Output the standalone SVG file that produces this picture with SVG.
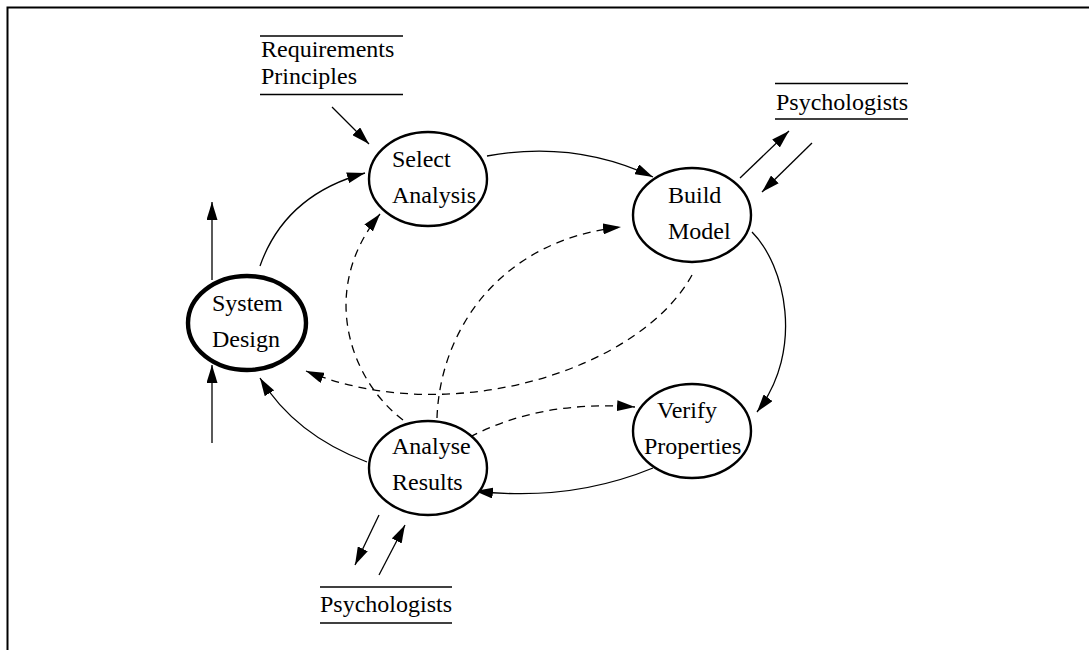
<svg xmlns="http://www.w3.org/2000/svg" width="1089" height="650" viewBox="0 0 1089 650">
  <defs>
    <marker id="head" viewBox="0 0 18 11" refX="18" refY="5.5" markerWidth="18" markerHeight="11" markerUnits="userSpaceOnUse" orient="auto">
      <path d="M0,0 L18,5.5 L0,11 Z" fill="#000"/>
    </marker>
    <style>
      .lbl { font-family: "Liberation Serif", "Times New Roman", serif; font-size: 24px; fill: #000; }
      .node { fill: #fff; stroke: #000; stroke-width: 2.4; }
      .main { fill: #fff; stroke: #000; stroke-width: 4.4; }
      .flow { fill: none; stroke: #000; stroke-width: 1.3; marker-end: url(#head); }
      .dash { fill: none; stroke: #000; stroke-width: 1.3; stroke-dasharray: 8 6; }
      .dash.arr { marker-end: url(#head); }
      .rule { stroke: #000; stroke-width: 1.5; }
    </style>
  </defs>

  <rect width="1089" height="650" fill="#fff"/>
  <!-- page frame (top and left edges) -->
  <path d="M7.5,650 V7.5 H1089" fill="none" stroke="#000" stroke-width="2"/>

  <!-- connectors -->
  <g id="connectors">
    <!-- solid cycle -->
    <path class="flow" d="M260,266 Q285,195 365,173"/>
    <path class="flow" d="M487,156 Q575,140 653,177"/>
    <path class="flow" d="M752,232 C785,265 805,350 757,412"/>
    <path class="flow" d="M653,468 Q570,502 475,491"/>
    <path class="flow" d="M367,462 Q295,435 260,378"/>
    <!-- dashed feedback -->
    <path class="dash arr" d="M470,437 Q540,400 635,407"/>
    <path class="dash arr" d="M403,420 C350,380 318,290 380,214"/>
    <path class="dash arr" d="M437,418 C440,330 500,240 621,227"/>
    <path class="dash arr" d="M692,275 C640,370 450,430 306,371"/>
    <!-- external inputs and outputs -->
    <path class="flow" d="M332,107 L369,144"/>
    <path class="flow" d="M740,178 L789,131"/>
    <path class="flow" d="M812,143 L762,192"/>
    <path class="flow" d="M212,280 L212,202"/>
    <path class="flow" d="M212,443 L212,365"/>
    <path class="flow" d="M379,515 L355,565"/>
    <path class="flow" d="M379,575 L405,525"/>
  </g>

  <!-- nodes -->
  <g id="system-design">
    <ellipse class="main" cx="247" cy="323" rx="59" ry="47"/>
    <text class="lbl" x="212" y="311">System</text>
    <text class="lbl" x="212" y="347">Design</text>
  </g>
  <g id="select-analysis">
    <ellipse class="node" cx="428" cy="179" rx="59" ry="47"/>
    <text class="lbl" x="392" y="167">Select</text>
    <text class="lbl" x="392" y="203">Analysis</text>
  </g>
  <g id="build-model">
    <ellipse class="node" cx="692" cy="215" rx="59" ry="47"/>
    <text class="lbl" x="668" y="203">Build</text>
    <text class="lbl" x="668" y="239">Model</text>
  </g>
  <g id="verify-properties">
    <ellipse class="node" cx="692" cy="431" rx="59" ry="47"/>
    <text class="lbl" x="657" y="418">Verify</text>
    <text class="lbl" x="644" y="454">Properties</text>
  </g>
  <g id="analyse-results">
    <ellipse class="node" cx="428" cy="468" rx="59" ry="47"/>
    <text class="lbl" x="392" y="454">Analyse</text>
    <text class="lbl" x="392" y="490">Results</text>
  </g>

  <!-- external sources -->
  <g id="requirements-principles">
    <line class="rule" x1="260" y1="36" x2="403" y2="36"/>
    <text class="lbl" x="261" y="57">Requirements</text>
    <text class="lbl" x="261" y="84">Principles</text>
    <line class="rule" x1="260" y1="94.5" x2="403" y2="94.5"/>
  </g>
  <g id="psychologists-top">
    <line class="rule" x1="775" y1="83.5" x2="908" y2="83.5"/>
    <text class="lbl" x="776" y="110">Psychologists</text>
    <line class="rule" x1="775" y1="119" x2="908" y2="119"/>
  </g>
  <g id="psychologists-bottom">
    <line class="rule" x1="320" y1="587" x2="452" y2="587"/>
    <text class="lbl" x="320" y="612">Psychologists</text>
    <line class="rule" x1="320" y1="623" x2="452" y2="623"/>
  </g>
</svg>
